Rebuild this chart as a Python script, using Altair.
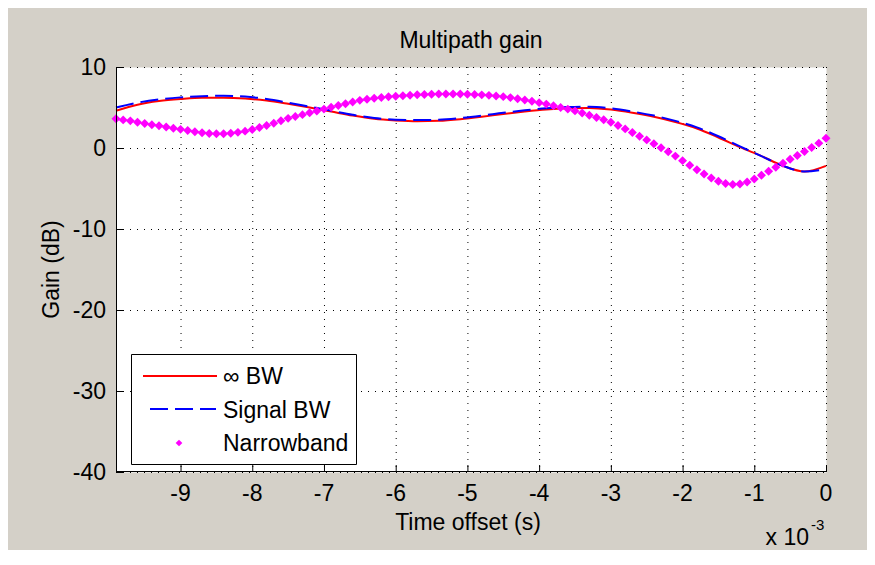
import altair as alt
import pandas as pd

# ---------------- data ----------------
SERIES = ["\u221e BW", "Signal BW", "Narrowband"]
COLORS = ["#ff0000", "#0000ff", "#ff00ff"]

# time offset in units of 1e-3 s
TIME_LINE = [-9.9, -9.6, -9.3, -9.0, -8.7, -8.4, -8.1, -7.8, -7.5, -7.2,
             -6.9, -6.6, -6.3, -6.0, -5.7, -5.4, -5.1, -4.8, -4.5, -4.2,
             -3.9, -3.6, -3.3, -3.0, -2.7, -2.4, -2.1, -1.8, -1.5, -1.2,
             -0.9, -0.6, -0.3, 0.0]

INF_BW = [4.6, 5.35, 5.8, 6.05, 6.2, 6.2, 6.1, 5.85, 5.45, 5.0,
          4.5, 4.0, 3.6, 3.4, 3.3, 3.35, 3.55, 3.85, 4.2, 4.5,
          4.75, 4.9, 4.95, 4.75, 4.35, 3.85, 3.2, 2.4, 1.3, 0.1,
          -1.0, -2.2, -2.9, -2.2]

SIGNAL_BW = [5.0, 5.6, 6.0, 6.25, 6.4, 6.45, 6.35, 6.05, 5.6, 5.1,
             4.6, 4.1, 3.7, 3.5, 3.45, 3.5, 3.7, 4.0, 4.35, 4.65,
             4.9, 5.05, 5.1, 4.9, 4.5, 4.0, 3.35, 2.55, 1.45, 0.2,
             -1.0, -2.2, -2.9, -2.6]

TIME_NB = [-9.9, -9.8, -9.7, -9.6, -9.5, -9.4, -9.3, -9.2, -9.1, -9.0,
           -8.9, -8.8, -8.7, -8.6, -8.5, -8.4, -8.3, -8.2, -8.1, -8.0,
           -7.9, -7.8, -7.7, -7.6, -7.5, -7.4, -7.3, -7.2, -7.1, -7.0,
           -6.9, -6.8, -6.7, -6.6, -6.5, -6.4, -6.3, -6.2, -6.1, -6.0,
           -5.9, -5.8, -5.7, -5.6, -5.5, -5.4, -5.3, -5.2, -5.1, -5.0,
           -4.9, -4.8, -4.7, -4.6, -4.5, -4.4, -4.3, -4.2, -4.1, -4.0,
           -3.9, -3.8, -3.7, -3.6, -3.5, -3.4, -3.3, -3.2, -3.1, -3.0,
           -2.9, -2.8, -2.7, -2.6, -2.5, -2.4, -2.3, -2.2, -2.1, -2.0,
           -1.9, -1.8, -1.7, -1.6, -1.5, -1.4, -1.3, -1.2, -1.1, -1.0,
           -0.9, -0.8, -0.7, -0.6, -0.5, -0.4, -0.3, -0.2, -0.1, 0.0]

NARROWBAND = [3.60, 3.47, 3.35, 3.18, 3.02, 2.88, 2.74, 2.60, 2.45, 2.30,
              2.15, 2.00, 1.88, 1.79, 1.75, 1.76, 1.82, 1.93, 2.08, 2.28,
              2.52, 2.78, 3.05, 3.36, 3.66, 3.90, 4.12, 4.34, 4.56, 4.80,
              5.02, 5.24, 5.46, 5.68, 5.88, 6.02, 6.14, 6.24, 6.32, 6.40,
              6.46, 6.52, 6.57, 6.61, 6.64, 6.66, 6.67, 6.67, 6.66, 6.64,
              6.61, 6.56, 6.50, 6.43, 6.34, 6.22, 6.08, 5.93, 5.77, 5.60,
              5.42, 5.22, 5.01, 4.80, 4.58, 4.32, 4.04, 3.76, 3.48, 3.18,
              2.78, 2.36, 1.92, 1.46, 1.00, 0.52, 0.04, -0.46, -1.00, -1.56,
              -2.12, -2.68, -3.20, -3.70, -4.10, -4.38, -4.50, -4.44, -4.20, -3.82,
              -3.36, -2.86, -2.38, -1.88, -1.40, -0.92, -0.44, 0.06, 0.60, 1.20]

X_TICKS = [-9, -8, -7, -6, -5, -4, -3, -2, -1, 0]
X_LABELS = ["-9", "-8", "-7", "-6", "-5", "-4", "-3", "-2", "-1", "0"]
Y_TICKS = [-40, -30, -20, -10, 0, 10]
Y_LABELS = ["-40", "-30", "-20", "-10", "0", "10"]
X_DOMAIN = [-9.9, 0]
Y_DOMAIN = [-40, 10]

TITLE = "Multipath gain"
X_TITLE = "Time offset (s)"
Y_TITLE = "Gain (dB)"
EXP_BASE = "x 10"
EXP_SUP = "-3"

# ---------------- layout ----------------
W, H = 710, 405
FONT = "Liberation Sans"
FS = 23
BG = "#d4d0c8"
BLACK = "#000000"

inf_df = pd.DataFrame({"t": TIME_LINE, "gain": INF_BW})
sig_df = pd.DataFrame({"t": TIME_LINE, "gain": SIGNAL_BW})
nb_df = pd.DataFrame({"t": TIME_NB, "gain": NARROWBAND})
xt_df = pd.DataFrame({"v": X_TICKS, "lab": X_LABELS})
yt_df = pd.DataFrame({"v": Y_TICKS, "lab": Y_LABELS})
one = pd.DataFrame({"a": [0]})

xs = alt.Scale(domain=X_DOMAIN, nice=False, zero=False)
ys = alt.Scale(domain=Y_DOMAIN, nice=False, zero=False)


def X(field):
    return alt.X(field, type="quantitative", scale=xs, axis=None)


def Y(field):
    return alt.Y(field, type="quantitative", scale=ys, axis=None)


# dotted grid
xgrid = alt.Chart(xt_df).mark_rule(color=BLACK, strokeWidth=1, strokeDash=[1, 6],
                                   xOffset=0.5).encode(
    x=X("v"), y=alt.value(0), y2=alt.value(H))
ygrid = alt.Chart(yt_df).mark_rule(color=BLACK, strokeWidth=1, strokeDash=[1, 6],
                                   yOffset=0.5).encode(
    y=Y("v"), x=alt.value(0), x2=alt.value(W))

# data
red = alt.Chart(inf_df).mark_line(color=COLORS[0], strokeWidth=2,
                                  interpolate="monotone").encode(x=X("t"), y=Y("gain"))
blue = alt.Chart(sig_df).mark_line(color=COLORS[1], strokeWidth=2, strokeDash=[18, 7],
                                   interpolate="monotone").encode(x=X("t"), y=Y("gain"))
nb = alt.Chart(nb_df).mark_point(shape="diamond", filled=True, color=COLORS[2], size=80,
                                 opacity=1).encode(x=X("t"), y=Y("gain"))

# axis lines, inward ticks, tick labels
left_dom = alt.Chart(one).mark_rule(color=BLACK, strokeWidth=1).encode(
    x=alt.value(0.5), y=alt.value(0), y2=alt.value(H))
bot_dom = alt.Chart(one).mark_rule(color=BLACK, strokeWidth=1).encode(
    y=alt.value(H - 0.5), x=alt.value(0), x2=alt.value(W + 0.5))
xticks = alt.Chart(xt_df).mark_rule(color=BLACK, strokeWidth=1, xOffset=0.5).encode(
    x=X("v"), y=alt.value(H), y2=alt.value(H - 7))
yticks = alt.Chart(yt_df).mark_rule(color=BLACK, strokeWidth=1, yOffset=0.5).encode(
    y=Y("v"), x=alt.value(0), x2=alt.value(7))
xlabels = alt.Chart(xt_df).mark_text(align="center", baseline="alphabetic", font=FONT,
                                     fontSize=FS, color=BLACK).encode(
    x=X("v"), y=alt.value(H + 29), text="lab:N")
ylabels = alt.Chart(yt_df).mark_text(align="right", baseline="middle", font=FONT,
                                     fontSize=FS, color=BLACK, dy=1).encode(
    y=Y("v"), x=alt.value(-10), text="lab:N")

# titles
title = alt.Chart(one).mark_text(text=TITLE, align="center", baseline="alphabetic",
                                 font=FONT, fontSize=FS, color=BLACK).encode(
    x=alt.value(W / 2), y=alt.value(-19))
xtitle = alt.Chart(one).mark_text(text=X_TITLE, align="center", baseline="alphabetic",
                                  font=FONT, fontSize=FS, color=BLACK).encode(
    x=alt.value(W / 2 - 3), y=alt.value(H + 58))
ytitle = alt.Chart(one).mark_text(text=Y_TITLE, align="center", baseline="middle",
                                  angle=270, font=FONT, fontSize=FS, color=BLACK).encode(
    x=alt.value(-64), y=alt.value(H / 2))

# legend box (drawn like MATLAB's)
leg_box = alt.Chart(one).mark_rect(fill="white", stroke=BLACK, strokeWidth=1).encode(
    x=alt.value(15.5), x2=alt.value(240.5), y=alt.value(287.5), y2=alt.value(397.5))
leg_red = alt.Chart(one).mark_rule(color=COLORS[0], strokeWidth=2).encode(
    x=alt.value(27), x2=alt.value(101), y=alt.value(309))
leg_blue = alt.Chart(one).mark_rule(color=COLORS[1], strokeWidth=2, strokeDash=[18, 7]).encode(
    x=alt.value(34), x2=alt.value(100), y=alt.value(342))
leg_nb = alt.Chart(one).mark_point(shape="diamond", filled=True, color=COLORS[2], size=45,
                                   opacity=1).encode(x=alt.value(63), y=alt.value(376))
leg_texts = [
    alt.Chart(one).mark_text(text=SERIES[i], align="left", baseline="middle", font=FONT,
                             fontSize=FS, color=BLACK).encode(
        x=alt.value(107), y=alt.value(yy))
    for i, yy in enumerate([310, 344, 377])
]

# "x 10^-3" exponent note
exp_base = alt.Chart(one).mark_text(text=EXP_BASE, align="right", baseline="alphabetic",
                                    font=FONT, fontSize=FS, color=BLACK).encode(
    x=alt.value(693), y=alt.value(478))
exp_sup = alt.Chart(one).mark_text(text=EXP_SUP, align="left", baseline="alphabetic",
                                   font=FONT, fontSize=15, color=BLACK).encode(
    x=alt.value(695), y=alt.value(463))

chart = alt.layer(
    xgrid, ygrid, red, blue, nb, left_dom, bot_dom, xticks, yticks, xlabels, ylabels,
    title, xtitle, ytitle, leg_box, leg_red, leg_blue, leg_nb, *leg_texts,
    exp_base, exp_sup
).properties(
    width=W, height=H,
    autosize=alt.AutoSizeParams(type="none"),
    padding={"left": 108, "top": 59, "right": 41, "bottom": 78},
    background=BG,
).configure_view(
    fill="white", stroke="transparent"
)

chart.save("out.html", embed_options={"renderer": "svg", "actions": False})
